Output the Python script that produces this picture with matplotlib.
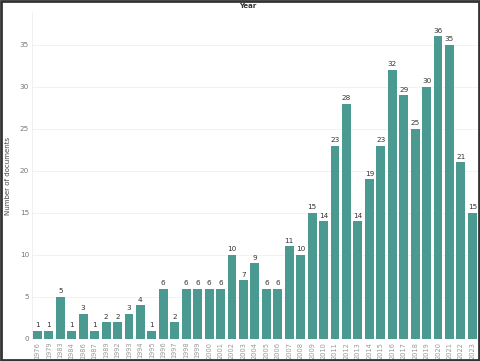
import matplotlib
matplotlib.use("Agg")
import matplotlib.pyplot as plt
from matplotlib.patches import Rectangle

years = ["1976", "1979", "1983", "1984", "1986", "1987", "1989", "1992", "1993", "1994",
         "1995", "1996", "1997", "1998", "1999", "2000", "2001", "2002", "2003", "2004",
         "2005", "2006", "2007", "2008", "2009", "2010", "2011", "2012", "2013", "2014",
         "2015", "2016", "2017", "2018", "2019", "2020", "2021", "2022", "2023"]
counts = [1, 1, 5, 1, 3, 1, 2, 2, 3, 4,
          1, 6, 2, 6, 6, 6, 6, 10, 7, 9,
          6, 6, 11, 10, 15, 14, 23, 28, 14, 19,
          23, 32, 29, 25, 30, 36, 35, 21, 15]
yticks = [0, 5, 10, 15, 20, 25, 30, 35]

bar_color = "#4b9a91"
fig = plt.figure(figsize=(4.8, 3.61), dpi=100)
ax = fig.add_axes([0.066, 0.061, 0.93, 0.906])
x = list(range(len(years)))
ax.bar(x, counts, width=0.78, color=bar_color, zorder=2)
for xi, v in zip(x, counts):
    ax.text(xi, v + 0.3, str(v), ha="center", va="bottom", fontsize=5.2, color="#333333")
ax.set_xlim(-0.5, len(years) - 0.5)
ax.set_ylim(0, 38.9)
ax.set_yticks(yticks)
ax.set_yticklabels([str(t) for t in yticks], fontsize=5.2, color="#777777")
ax.set_xticks(x)
ax.set_xticklabels(years, rotation=90, fontsize=4.8, color="#999999")
ax.tick_params(axis="both", length=0, pad=2)
ax.grid(axis="y", color="#f0f0f0", linewidth=0.6, zorder=0)
for s in ["top", "right", "bottom"]:
    ax.spines[s].set_visible(False)
ax.spines["left"].set_color("#eeeeee")
ax.spines["left"].set_linewidth(0.6)
ax.set_ylabel("Number of documents", fontsize=5, color="#444444", labelpad=6)
fig.text(0.517, 0.984, "Year", ha="center", va="center", fontsize=5, color="#333333", fontweight="bold")
fig.patches.append(Rectangle((0.002, 0.003), 0.996, 0.994, transform=fig.transFigure,
                             fill=False, edgecolor="#333333", linewidth=2.0))
fig.savefig("out.png", dpi=100)
